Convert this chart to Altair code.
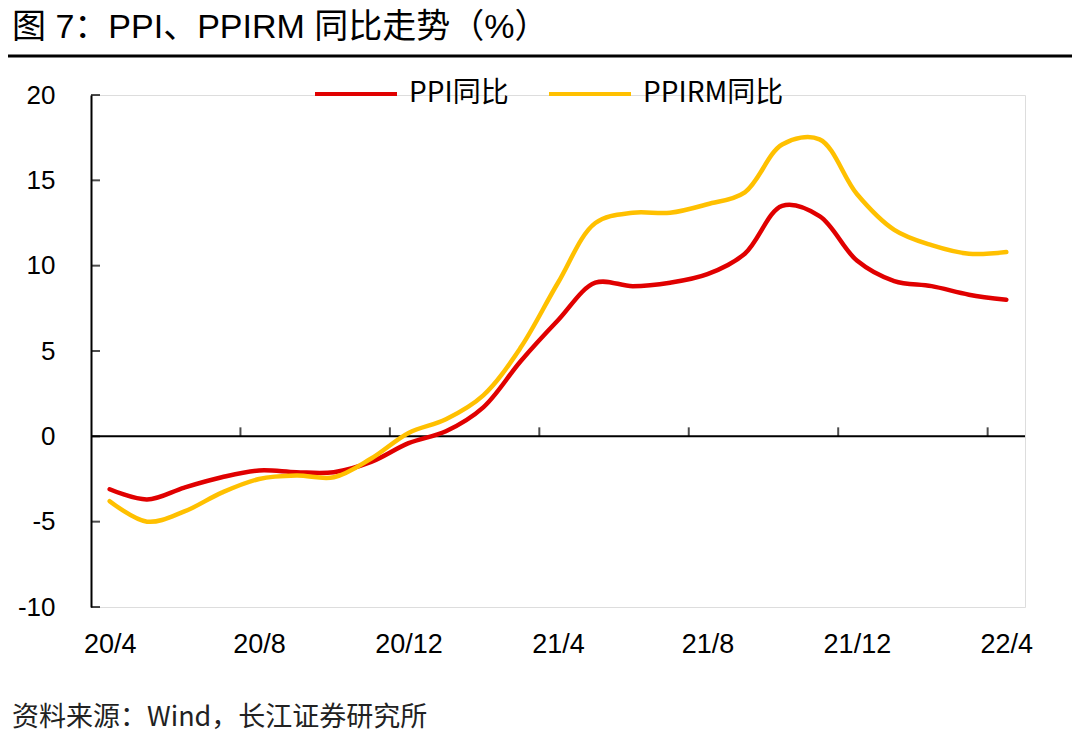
import json
import altair as alt
import pandas as pd

months = ["20/4", "20/5", "20/6", "20/7", "20/8", "20/9", "20/10", "20/11", "20/12",
          "21/1", "21/2", "21/3", "21/4", "21/5", "21/6", "21/7", "21/8", "21/9",
          "21/10", "21/11", "21/12", "22/1", "22/2", "22/3", "22/4"]
ppi = [-3.1, -3.7, -3.0, -2.4, -2.0, -2.1, -2.1, -1.5, -0.4,
       0.3, 1.7, 4.4, 6.8, 9.0, 8.8, 9.0, 9.5, 10.7,
       13.5, 12.9, 10.3, 9.1, 8.8, 8.3, 8.0]
ppirm = [-3.8, -5.0, -4.4, -3.3, -2.5, -2.3, -2.4, -1.3, 0.2,
         1.0, 2.4, 5.2, 9.0, 12.5, 13.1, 13.1, 13.6, 14.3,
         17.1, 17.4, 14.2, 12.1, 11.2, 10.7, 10.8]
series_names = ["PPI同比", "PPIRM同比"]
series_colors = ["#E00000", "#FFC000"]
y_ticks = [-10, -5, 0, 5, 10, 15, 20]
x_label_idx = [0, 4, 8, 12, 16, 20, 24]
x_tick_pos = [3.5, 7.5, 11.5, 15.5, 19.5, 23.5]
title_text = "图  7：PPI、PPIRM 同比走势（%）"
source_text = "资料来源：Wind，长江证券研究所"

W, H = 934, 512
LATIN = "Liberation Sans, Arial, Noto Sans CJK SC"
CJK = "Noto Sans CJK SC, Liberation Sans"

rows = []
for i, m in enumerate(months):
    rows.append({"idx": i, "month": m, "series": series_names[0], "value": ppi[i]})
    rows.append({"idx": i, "month": m, "series": series_names[1], "value": ppirm[i]})
df = pd.DataFrame(rows)

label_expr = json.dumps(months) + "[datum.value]"

xscale = alt.Scale(domain=[-0.5, 24.5], nice=False, zero=False)
yscale = alt.Scale(domain=[-10, 20], nice=False)

lines = alt.Chart(df).mark_line(
    interpolate="catmull-rom", strokeWidth=4.5, strokeCap="round", strokeJoin="round"
).encode(
    x=alt.X("idx:Q", scale=xscale,
            axis=alt.Axis(values=x_label_idx, labelExpr=label_expr, title=None,
                          domain=False, ticks=False, grid=False,
                          labelFontSize=27, labelFont=LATIN, labelColor="#000",
                          labelPadding=24, labelBaseline="top")),
    y=alt.Y("value:Q", scale=yscale,
            axis=alt.Axis(values=y_ticks, title=None, grid=False, ticks=False,
                          domain=True, domainColor="#000", domainWidth=2,
                          labelExpr="toString(datum.value)",
                          labelFontSize=26, labelFont=LATIN, labelColor="#000",
                          labelPadding=36)),
    color=alt.Color("series:N",
                    scale=alt.Scale(domain=series_names, range=series_colors),
                    sort=series_names,
                    legend=alt.Legend(title=None, orient="none", direction="horizontal",
                                      legendX=222, legendY=-44,
                                      symbolType="stroke", symbolSize=6724,
                                      symbolStrokeWidth=4,
                                      labelFontSize=28, labelFont=CJK, labelColor="#000",
                                      labelOffset=10, columnPadding=32)),
    detail="series:N",
)

zero_line = alt.Chart(pd.DataFrame({"v": [0]})).mark_rule(
    color="#000", strokeWidth=2
).encode(y=alt.Y("v:Q", scale=yscale))

xt = alt.Chart(pd.DataFrame({"p": x_tick_pos})).mark_tick(
    orient="vertical", size=9, thickness=2, color="#000", yOffset=-4.5
).encode(x=alt.X("p:Q", scale=xscale), y=alt.Y("z:Q", scale=yscale)).transform_calculate(z="0")

yt = alt.Chart(pd.DataFrame({"v": y_ticks})).mark_tick(
    orient="horizontal", size=9, thickness=2, color="#000", xOffset=4.5
).encode(y=alt.Y("v:Q", scale=yscale), x=alt.X("l:Q", scale=xscale)).transform_calculate(l="-0.5")

title = alt.Chart(pd.DataFrame({"t": [title_text]})).mark_text(
    align="left", baseline="alphabetic", fontSize=34, font=LATIN, color="#000"
).encode(text="t:N", x=alt.value(-79), y=alt.value(-57))

title_rule = alt.Chart(pd.DataFrame({"a": [0]})).mark_rule(
    color="#000", strokeWidth=3
).encode(x=alt.value(-83), x2=alt.value(984), y=alt.value(-39))

source = alt.Chart(pd.DataFrame({"t": [source_text]})).mark_text(
    align="left", baseline="alphabetic", fontSize=27, font=CJK, color="#222"
).encode(text="t:N", x=alt.value(-79), y=alt.value(631))

chart = alt.layer(zero_line, xt, yt, lines, title, title_rule, source).properties(
    width=W, height=H,
    autosize=alt.AutoSizeParams(type="none"),
    padding={"left": 83, "top": 87, "right": 47, "bottom": 132},
).configure_view(stroke=None).configure(background="white")

chart.save("out.html", embed_options={"renderer": "svg", "actions": False})
